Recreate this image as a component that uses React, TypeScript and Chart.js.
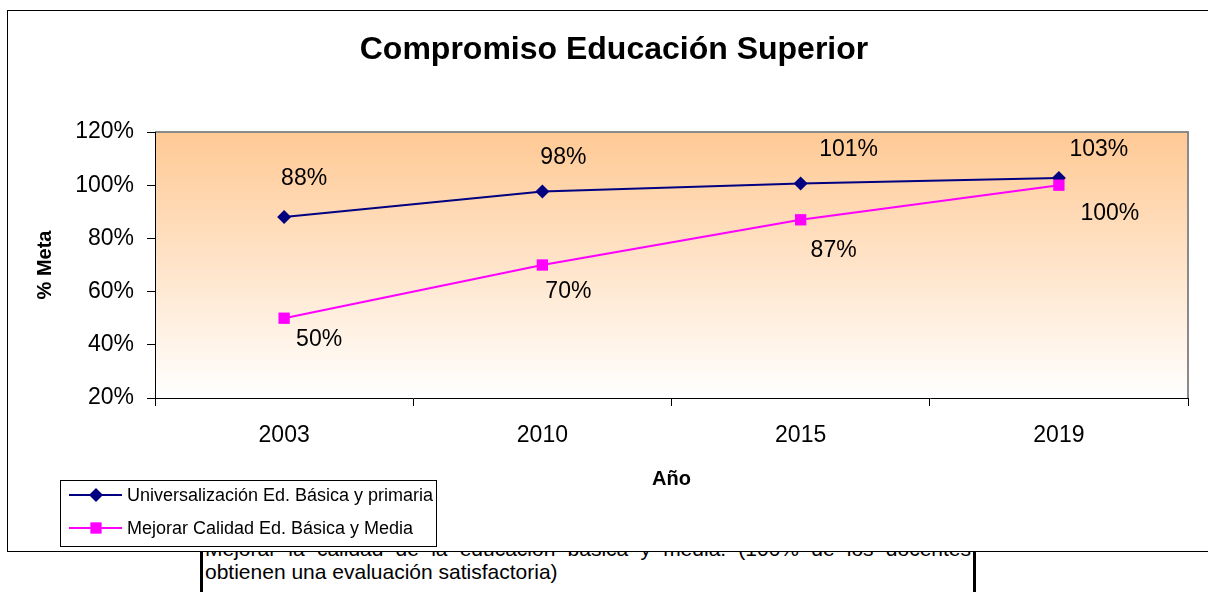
import React, { useEffect, useRef } from 'react';
import { Chart, registerables } from 'chart.js';

Chart.register(...registerables);

const chartTitle = 'Compromiso Educación Superior';
const years = ['2003', '2010', '2015', '2019'];
const universalizacion = [88, 97.6, 100.6, 102.7];
const calidad = [50, 70, 87, 100];
const seriesNames = ['Universalización Ed. Básica y primaria', 'Mejorar Calidad Ed. Básica y Media'];
const yMin = 20;
const yMax = 120;
const yStep = 20;
const yTitle = '% Meta';
const xTitle = 'Año';
const noteLines = [
  'Mejorar la calidad de la educación básica y media. (100% de los docentes',
  'obtienen una evaluación satisfactoria)',
];

const FONT = 'Arial, "Liberation Sans", Helvetica, sans-serif';
const NAVY = '#000080';
const MAGENTA = '#FF00FF';
const CW = 1215;
const CH = 540;
const AREA = { left: 147, right: 1180, top: 121, bottom: 387 };
const TITLE_POS = { x: 606, y: 39 };
const labelOffsets = [
  [[20, -38], [21, -34], [48, -34], [40, -28]],
  [[35, 21], [26, 27], [33, 31], [51, 28]],
];

const plotBg = {
  id: 'plotBg',
  beforeDraw(chart: any) {
    const { ctx, chartArea: a } = chart;
    ctx.save();
    ctx.fillStyle = '#ffffff';
    ctx.fillRect(0, 0, chart.width, chart.height);
    const g = ctx.createLinearGradient(0, a.top, 0, a.bottom);
    g.addColorStop(0, '#FFC994');
    g.addColorStop(1, '#FFFFFF');
    ctx.fillStyle = g;
    ctx.fillRect(a.left, a.top, a.right - a.left, a.bottom - a.top);
    ctx.strokeStyle = '#8a8a8a';
    ctx.lineWidth = 2;
    ctx.beginPath();
    ctx.moveTo(a.left, a.top);
    ctx.lineTo(a.right, a.top);
    ctx.lineTo(a.right, a.bottom);
    ctx.stroke();
    // chart title (centred on the whole chart frame)
    ctx.fillStyle = '#000';
    ctx.font = `bold 32px ${FONT}`;
    ctx.textAlign = 'center';
    ctx.textBaseline = 'middle';
    ctx.fillText(chartTitle, TITLE_POS.x, TITLE_POS.y);
    ctx.restore();
  },
};

const pointLabels = {
  id: 'pointLabels',
  afterDatasetsDraw(chart: any) {
    const { ctx } = chart;
    ctx.save();
    ctx.font = `23px ${FONT}`;
    ctx.fillStyle = '#000';
    ctx.textAlign = 'center';
    ctx.textBaseline = 'middle';
    chart.data.datasets.forEach((ds: any, i: number) => {
      const meta = chart.getDatasetMeta(i);
      meta.data.forEach((pt: any, j: number) => {
        const v = ds.data[j] as number;
        const [dx, dy] = labelOffsets[i][j];
        ctx.fillText(Math.round(v) + '%', pt.x + dx, pt.y + dy);
      });
    });
    ctx.restore();
  },
};

const boxLegend = {
  id: 'boxLegend',
  afterDraw(chart: any) {
    const { ctx } = chart;
    const bx = 52;
    const by = 469;
    const bw = 376;
    const bh = 66;
    ctx.save();
    ctx.fillStyle = '#fff';
    ctx.fillRect(bx, by, bw, bh);
    ctx.strokeStyle = '#000';
    ctx.lineWidth = 1;
    ctx.strokeRect(bx + 0.5, by + 0.5, bw, bh);
    const rows = [by + 15, by + 48];
    chart.data.datasets.forEach((ds: any, i: number) => {
      const y = rows[i];
      ctx.strokeStyle = ds.borderColor;
      ctx.lineWidth = 2;
      ctx.beginPath();
      ctx.moveTo(bx + 9, y);
      ctx.lineTo(bx + 62, y);
      ctx.stroke();
      ctx.fillStyle = ds.backgroundColor;
      const mx = bx + 36;
      if (ds.pointStyle === 'rectRot') {
        const r = ds.pointRadius;
        ctx.beginPath();
        ctx.moveTo(mx - r, y);
        ctx.lineTo(mx, y - r);
        ctx.lineTo(mx + r, y);
        ctx.lineTo(mx, y + r);
        ctx.closePath();
        ctx.fill();
      } else {
        const s = ds.pointRadius * Math.SQRT1_2;
        ctx.fillRect(mx - s, y - s, 2 * s, 2 * s);
      }
      ctx.fillStyle = '#000';
      ctx.font = `18px ${FONT}`;
      ctx.textAlign = 'left';
      ctx.textBaseline = 'middle';
      ctx.fillText(ds.label, bx + 67, y + 1);
    });
    ctx.restore();
  },
};

export default function App() {
  const ref = useRef<HTMLCanvasElement>(null);

  useEffect(() => {
    if (!ref.current) return;
    const chart = new Chart(ref.current, {
      type: 'line',
      data: {
        labels: years,
        datasets: [
          {
            label: seriesNames[0],
            data: universalizacion,
            borderColor: NAVY,
            backgroundColor: NAVY,
            borderWidth: 2,
            pointStyle: 'rectRot',
            pointRadius: 7,
            pointBorderWidth: 0,
            order: 1,
          } as any,
          {
            label: seriesNames[1],
            data: calidad,
            borderColor: MAGENTA,
            backgroundColor: MAGENTA,
            borderWidth: 2,
            pointStyle: 'rect',
            pointRadius: 8,
            pointBorderWidth: 0,
            order: 0,
          } as any,
        ],
      },
      options: {
        responsive: false,
        animation: false,
        devicePixelRatio: 1,
        layout: { padding: { left: 0, right: CW - AREA.right, top: AREA.top, bottom: 0 } },
        plugins: {
          legend: { display: false },
          tooltip: { enabled: false },
          title: { display: false },
        },
        scales: {
          x: {
            offset: true,
            grid: { offset: true, drawOnChartArea: false, drawTicks: true, tickLength: 8, color: '#000' },
            border: { color: '#000', width: 1 },
            ticks: { color: '#000', font: { family: FONT, size: 23 }, padding: 16 },
            title: {
              display: true,
              text: xTitle,
              color: '#000',
              font: { family: FONT, size: 20, weight: 'bold' },
              padding: { top: 0, bottom: 60 },
            },
            afterFit(s: any) {
              s.height = CH - AREA.bottom;
            },
          },
          y: {
            min: yMin,
            max: yMax,
            ticks: {
              stepSize: yStep,
              color: '#000',
              font: { family: FONT, size: 23 },
              padding: 13,
              callback: (v: any) => v + '%',
            },
            grid: { drawOnChartArea: false, tickLength: 8, color: '#000' },
            border: { color: '#000', width: 1 },
            title: {
              display: true,
              text: yTitle,
              color: '#000',
              font: { family: FONT, size: 20, weight: 'bold' },
              padding: { top: 25, bottom: 0 },
            },
            afterFit(s: any) {
              s.width = AREA.left;
            },
          },
        },
      } as any,
      plugins: [plotBg, pointLabels, boxLegend],
    });
    return () => chart.destroy();
  }, []);

  return (
    <div
      style={{
        position: 'fixed',
        left: 0,
        top: 0,
        width: 1208,
        height: 592,
        overflow: 'hidden',
        background: '#fff',
      }}
    >
      <div
        style={{
          position: 'absolute',
          left: 200,
          top: 529,
          width: 766,
          height: 80,
          paddingTop: 8,
          paddingLeft: 2,
          paddingRight: 2,
          borderLeft: '3px solid #000',
          borderRight: '3px solid #000',
          fontFamily: FONT,
          fontSize: 21,
          lineHeight: '23px',
          color: '#000',
          zIndex: 0,
          whiteSpace: 'nowrap',
        }}
      >
        <div style={{ textAlign: 'justify', textAlignLast: 'justify', whiteSpace: 'normal' } as any}>
          {noteLines[0]}
        </div>
        <div>{noteLines[1]}</div>
      </div>
      <div
        style={{
          position: 'absolute',
          left: 7,
          top: 10,
          width: CW,
          height: CH,
          border: '1px solid #000',
          background: '#fff',
          zIndex: 1,
        }}
      >
        <canvas ref={ref} width={CW} height={CH} style={{ display: 'block', width: CW, height: CH }} />
      </div>
    </div>
  );
}
